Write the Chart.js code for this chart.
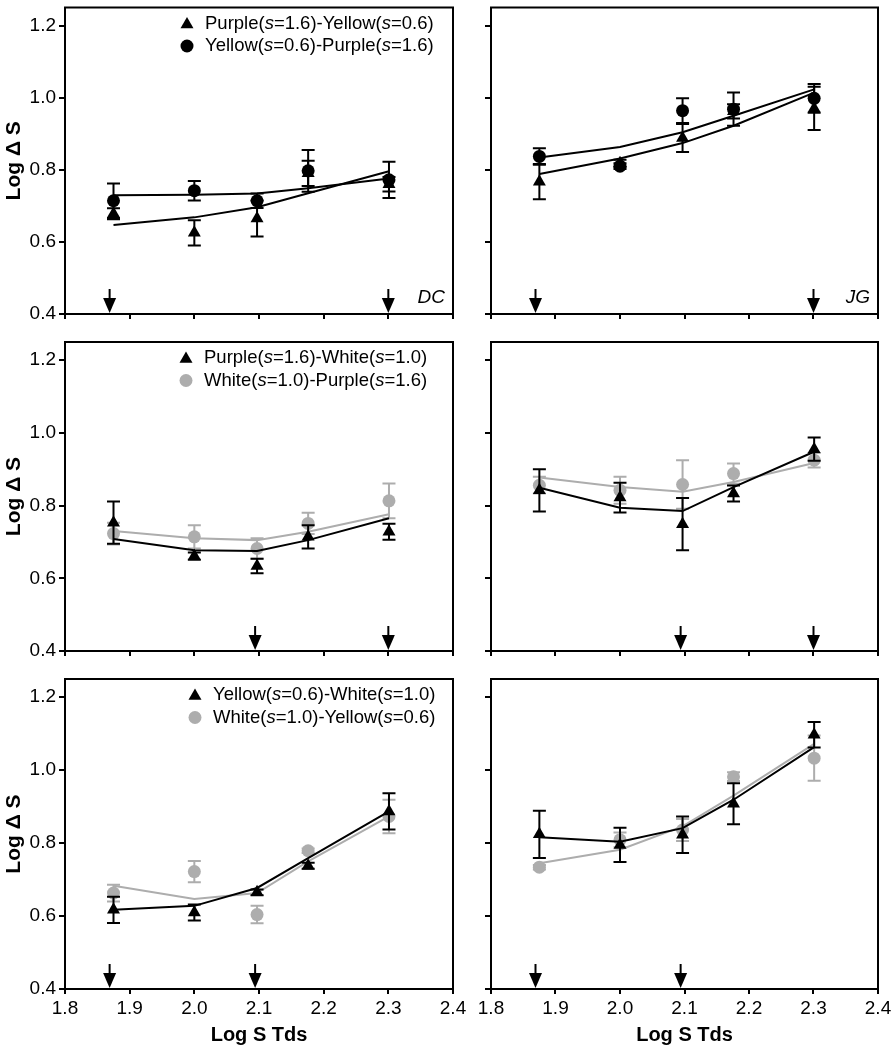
<!DOCTYPE html>
<html>
<head>
<meta charset="utf-8">
<script src="https://cdn.jsdelivr.net/npm/chart.js@4.4.1/dist/chart.umd.min.js"></script>
<style>
  html, body { margin: 0; padding: 0; background: #fff; }
  #wrap { position: relative; width: 894px; height: 1050px; background: #fff; }
  #wrap canvas { position: absolute; }
</style>
</head>
<body>
<div id="wrap">
  <canvas id="dcPY"></canvas>
  <canvas id="jgPY"></canvas>
  <canvas id="dcPW"></canvas>
  <canvas id="jgPW"></canvas>
  <canvas id="dcYW"></canvas>
  <canvas id="jgYW"></canvas>
</div>
<script>
// x positions = log of 75, 100, 125, 150, 200 Td
const logTd = [1.875, 2.0, 2.097, 2.176, 2.301];
const xTicks = [1.8, 1.9, 2.0, 2.1, 2.2, 2.3, 2.4];
const yTicks = [0.4, 0.6, 0.8, 1.0, 1.2];

// row 1: purple / yellow
const labelsPY = ['Purple(s=1.6)-Yellow(s=0.6)', 'Yellow(s=0.6)-Purple(s=1.6)'];
const arrowsPY = [1.869, 2.3];
const dcPY = [0.678, 0.625, 0.665, 0.790, 0.760];
const dcPYErr = [0.015, 0.035, 0.05, 0.035, 0.02];
const dcPYFit = [0.647, 0.668, 0.696, 0.735, 0.796];
const dcYP = [0.714, 0.742, 0.714, 0.797, 0.772];
const dcYPErr = [0.048, 0.027, 0.02, 0.058, 0.05];
const dcYPFit = [0.729, 0.731, 0.734, 0.749, 0.776];
const jgPY = [0.767, 0.818, 0.888, 0.962, 0.970];
const jgPYErr = [0.049, 0.01, 0.039, 0.02, 0.06];
const jgPYFit = [0.788, 0.831, 0.874, 0.922, 1.014];
const jgYP = [0.837, 0.810, 0.964, 0.968, 0.998];
const jgYPErr = [0.023, 0.008, 0.034, 0.046, 0.04];
const jgYPFit = [0.834, 0.863, 0.904, 0.950, 1.023];

// row 2: purple / white
const labelsPW = ['Purple(s=1.6)-White(s=1.0)', 'White(s=1.0)-Purple(s=1.6)'];
const arrowsPW = [2.094, 2.3];
const dcPW = [0.753, 0.661, 0.634, 0.714, 0.728];
const dcPWErr = [0.058, 0.01, 0.02, 0.032, 0.022];
const dcPWFit = [0.708, 0.677, 0.675, 0.705, 0.765];
const dcWP = [0.723, 0.714, 0.682, 0.751, 0.813];
const dcWPErr = [0.03, 0.032, 0.028, 0.029, 0.048];
const dcWPFit = [0.730, 0.710, 0.705, 0.728, 0.776];
const jgPW = [0.842, 0.822, 0.749, 0.833, 0.955];
const jgPWErr = [0.058, 0.041, 0.072, 0.022, 0.032];
const jgPWFit = [0.849, 0.794, 0.785, 0.851, 0.948];
const jgWP = [0.856, 0.842, 0.858, 0.888, 0.925];
const jgWPErr = [0.023, 0.037, 0.067, 0.028, 0.02];
const jgWPFit = [0.877, 0.851, 0.838, 0.865, 0.917];

// row 3: yellow / white
const labelsYW = ['Yellow(s=0.6)-White(s=1.0)', 'White(s=1.0)-Yellow(s=0.6)'];
const arrowsYW = [1.869, 2.094];
const dcYW = [0.617, 0.610, 0.665, 0.738, 0.887];
const dcYWErr = [0.036, 0.022, 0.008, 0.008, 0.05];
const dcYWFit = [0.617, 0.628, 0.677, 0.759, 0.887];
const dcWY = [0.663, 0.722, 0.604, 0.779, 0.873];
const dcWYErr = [0.023, 0.029, 0.024, 0.006, 0.046];
const dcWYFit = [0.683, 0.647, 0.663, 0.750, 0.873];
const jgYW = [0.824, 0.795, 0.823, 0.908, 1.097];
const jgYWErr = [0.065, 0.047, 0.05, 0.056, 0.035];
const jgYWFit = [0.816, 0.804, 0.841, 0.919, 1.063];
const jgWY = [0.734, 0.809, 0.836, 0.982, 1.033];
const jgWYErr = [0.006, 0.02, 0.03, 0.012, 0.062];
const jgWYFit = [0.745, 0.782, 0.846, 0.930, 1.072];

const BLACK = '#000';
const GRAY = '#adadad';
const FAMILY = '"Liberation Sans", Arial, Helvetica, sans-serif';
Chart.defaults.font.family = FAMILY;

const pts = arr => arr.map((y, i) => ({ x: logTd[i], y: y }));

// vertical error bars, drawn just before each marker dataset
const errorBars = {
  id: 'errorBars',
  beforeDatasetDraw(chart, args) {
    const ds = chart.data.datasets[args.index];
    if (!ds.errors) return;
    const ys = chart.scales.y, ctx = chart.ctx;
    ctx.save();
    ctx.strokeStyle = ds.backgroundColor;
    ctx.lineWidth = 2;
    args.meta.data.forEach((pt, i) => {
      const v = ds.data[i].y, e = ds.errors[i];
      const top = ys.getPixelForValue(v + e), bot = ys.getPixelForValue(v - e);
      ctx.beginPath();
      ctx.moveTo(pt.x, top); ctx.lineTo(pt.x, bot);
      ctx.moveTo(pt.x - 6.5, top); ctx.lineTo(pt.x + 6.5, top);
      ctx.moveTo(pt.x - 6.5, bot); ctx.lineTo(pt.x + 6.5, bot);
      ctx.stroke();
    });
    ctx.restore();
  }
};

function drawMarker(ctx, style, color, x, y) {
  ctx.fillStyle = color;
  ctx.beginPath();
  if (style === 'triangle') {
    const r = 7.5;
    ctx.moveTo(x, y - r);
    ctx.lineTo(x + r * 0.866, y + r * 0.5);
    ctx.lineTo(x - r * 0.866, y + r * 0.5);
    ctx.closePath();
  } else {
    ctx.arc(x, y, 6.5, 0, Math.PI * 2);
  }
  ctx.fill();
}

// text with the "s" of "s=" in italics
function drawLabel(ctx, text, x, y) {
  text.split(/(s(?==))/).forEach(part => {
    ctx.font = (part === 's' ? 'italic ' : '') + '18.5px ' + FAMILY;
    ctx.fillText(part, x, y);
    x += ctx.measureText(part).width;
  });
}

function decor(cfg) {
  return {
    id: 'decor',
    afterDraw(chart) {
      const ctx = chart.ctx, a = chart.chartArea, xs = chart.scales.x;
      ctx.save();
      ctx.strokeStyle = BLACK;
      ctx.fillStyle = BLACK;
      ctx.lineWidth = 2;
      ctx.strokeRect(a.left, a.top, a.right - a.left, a.bottom - a.top);

      cfg.arrows.forEach(v => {
        const x = xs.getPixelForValue(v), b = a.bottom;
        ctx.beginPath();
        ctx.moveTo(x, b - 25); ctx.lineTo(x, b - 12);
        ctx.stroke();
        ctx.beginPath();
        ctx.moveTo(x - 6.5, b - 16); ctx.lineTo(x + 6.5, b - 16); ctx.lineTo(x, b - 1);
        ctx.closePath();
        ctx.fill();
      });

      if (cfg.subject) {
        ctx.font = 'italic 19px ' + FAMILY;
        ctx.textAlign = 'right';
        ctx.textBaseline = 'middle';
        ctx.fillStyle = BLACK;
        ctx.fillText(cfg.subject, a.right - 8, a.bottom - 16);
      }

      if (cfg.legend) {
        ctx.textAlign = 'left';
        ctx.textBaseline = 'middle';
        const tx = a.left + cfg.legendX;
        const rows = [a.top + 16, a.top + 38.5];
        drawMarker(ctx, 'triangle', BLACK, tx - 18, rows[0] + 1);
        drawMarker(ctx, 'circle', cfg.color2, tx - 18, rows[1]);
        ctx.fillStyle = BLACK;
        drawLabel(ctx, cfg.legend[0], tx, rows[0]);
        drawLabel(ctx, cfg.legend[1], tx, rows[1]);
      }
      ctx.restore();
    }
  };
}

const cols = [
  { left: 0, w: 470, yW: 65, padR: 17 },
  { left: 472, w: 422, yW: 19, padR: 16 }
];
const rows = [
  { top: 0, h: 324, padT: 4, xH: 10 },
  { top: 334, h: 327, padT: 8, xH: 10 },
  { top: 671, h: 379, padT: 8, xH: 61 }
];

const panels = [
  { id: 'dcPY', r: 0, c: 0, a: dcPY, aErr: dcPYErr, aFit: dcPYFit, b: dcYP, bErr: dcYPErr, bFit: dcYPFit, color2: BLACK, arrows: arrowsPY, legend: labelsPY, legendX: 140, subject: 'DC' },
  { id: 'jgPY', r: 0, c: 1, a: jgPY, aErr: jgPYErr, aFit: jgPYFit, b: jgYP, bErr: jgYPErr, bFit: jgYPFit, color2: BLACK, arrows: arrowsPY, subject: 'JG' },
  { id: 'dcPW', r: 1, c: 0, a: dcPW, aErr: dcPWErr, aFit: dcPWFit, b: dcWP, bErr: dcWPErr, bFit: dcWPFit, color2: GRAY, arrows: arrowsPW, legend: labelsPW, legendX: 139 },
  { id: 'jgPW', r: 1, c: 1, a: jgPW, aErr: jgPWErr, aFit: jgPWFit, b: jgWP, bErr: jgWPErr, bFit: jgWPFit, color2: GRAY, arrows: arrowsPW },
  { id: 'dcYW', r: 2, c: 0, a: dcYW, aErr: dcYWErr, aFit: dcYWFit, b: dcWY, bErr: dcWYErr, bFit: dcWYFit, color2: GRAY, arrows: arrowsYW, legend: labelsYW, legendX: 148 },
  { id: 'jgYW', r: 2, c: 1, a: jgYW, aErr: jgYWErr, aFit: jgYWFit, b: jgWY, bErr: jgWYErr, bFit: jgWYFit, color2: GRAY, arrows: arrowsYW }
];

panels.forEach(p => {
  const col = cols[p.c], row = rows[p.r];
  const showX = p.r === 2, showY = p.c === 0;
  const canvas = document.getElementById(p.id);
  canvas.width = col.w;
  canvas.height = row.h;
  canvas.style.left = col.left + 'px';
  canvas.style.top = row.top + 'px';

  new Chart(canvas.getContext('2d'), {
    type: 'line',
    data: {
      datasets: [
        { data: pts(p.a), errors: p.aErr, showLine: false, pointStyle: 'triangle', pointRadius: 7.5, pointBorderWidth: 0, backgroundColor: BLACK, borderColor: BLACK },
        { data: pts(p.aFit), borderColor: BLACK, borderWidth: 2, pointRadius: 0, tension: 0, fill: false },
        { data: pts(p.b), errors: p.bErr, showLine: false, pointStyle: 'circle', pointRadius: 6.5, pointBorderWidth: 0, backgroundColor: p.color2, borderColor: p.color2 },
        { data: pts(p.bFit), borderColor: p.color2, borderWidth: 2, pointRadius: 0, tension: 0, fill: false }
      ]
    },
    options: {
      responsive: false,
      animation: false,
      layout: { padding: { left: 0, right: col.padR, top: row.padT, bottom: 0 } },
      plugins: { legend: { display: false }, tooltip: { enabled: false } },
      scales: {
        x: {
          type: 'linear', min: 1.8, max: 2.4,
          afterBuildTicks: s => { s.ticks = xTicks.map(v => ({ value: v })); },
          afterFit: s => { s.height = row.xH; s.paddingLeft = 0; s.paddingRight = 0; },
          grid: { drawOnChartArea: false, tickLength: 5, color: BLACK, lineWidth: 2 },
          border: { display: false },
          ticks: { display: showX, autoSkip: false, maxRotation: 0, padding: 3, color: BLACK, font: { size: 19 }, callback: v => Number(v).toFixed(1) },
          title: { display: showX, text: 'Log S Tds', color: BLACK, font: { size: 20, weight: 'bold' }, padding: { top: 4, bottom: 3 } }
        },
        y: {
          type: 'linear', min: 0.4, max: 1.25,
          afterBuildTicks: s => { s.ticks = yTicks.map(v => ({ value: v })); },
          afterFit: s => { s.width = col.yW; s.paddingTop = 0; s.paddingBottom = 0; },
          grid: { drawOnChartArea: false, tickLength: 6, color: BLACK, lineWidth: 2 },
          border: { display: false },
          ticks: { display: showY, padding: 3, color: BLACK, font: { size: 19 }, callback: v => Number(v).toFixed(1) },
          title: { display: showY, text: 'Log Δ S', color: BLACK, font: { size: 21, weight: 'bold' }, padding: { top: 2, bottom: 0 } }
        }
      }
    },
    plugins: [errorBars, decor(p)]
  });
});
</script>
</body>
</html>
